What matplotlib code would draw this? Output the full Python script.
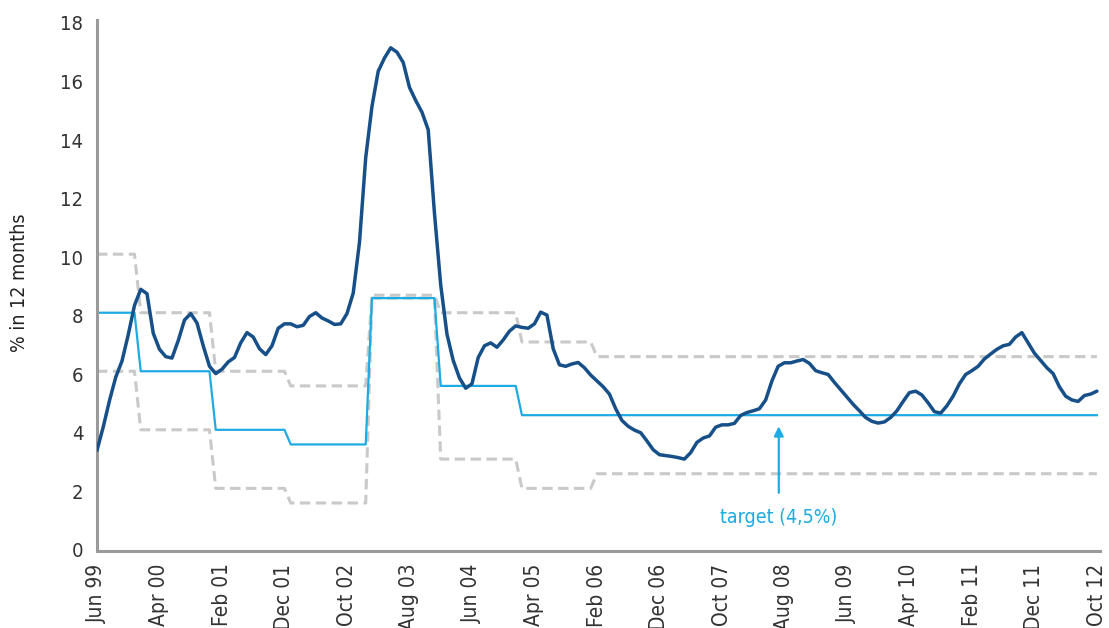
import matplotlib
matplotlib.use("Agg")
import matplotlib.pyplot as plt
import matplotlib.transforms as mtransforms

# ---- data (monthly, Jun 99 .. Oct 12) ----
months = list(range(161))
tick_labels = ["Jun 99", "Apr 00", "Feb 01", "Dec 01", "Oct 02", "Aug 03", "Jun 04",
               "Apr 05", "Feb 06", "Dec 06", "Oct 07", "Aug 08", "Jun 09", "Apr 10",
               "Feb 11", "Dec 11", "Oct 12"]
tick_positions = list(range(0, 161, 10))

cpi = [3.3, 4.1, 5.0, 5.8, 6.35, 7.25, 8.25, 8.8, 8.65, 7.3,
       6.75, 6.5, 6.45, 7.05, 7.75, 7.97, 7.65, 6.87, 6.17, 5.92,
       6.07, 6.32, 6.47, 6.97, 7.32, 7.17, 6.77, 6.57, 6.87, 7.47,
       7.62, 7.62, 7.52, 7.57, 7.87, 8.0, 7.82, 7.72, 7.6, 7.62,
       7.97, 8.67, 10.4, 13.3, 15.05, 16.25, 16.7, 17.05, 16.9, 16.55,
       15.7, 15.25, 14.85, 14.25, 11.4, 8.95, 7.27, 6.37, 5.77, 5.42,
       5.57, 6.47, 6.87, 6.97, 6.82, 7.07, 7.37, 7.55, 7.5, 7.47,
       7.62, 8.02, 7.92, 6.77, 6.22, 6.17, 6.25, 6.3, 6.12, 5.87,
       5.67, 5.47, 5.22, 4.72, 4.32, 4.12, 3.99, 3.9, 3.62, 3.32,
       3.15, 3.12, 3.09, 3.05, 3.0, 3.22, 3.57, 3.72, 3.79, 4.09,
       4.17, 4.17, 4.22, 4.49, 4.59, 4.65, 4.72, 5.02, 5.67, 6.17,
       6.29, 6.29, 6.35, 6.4, 6.27, 6.02, 5.95, 5.89, 5.62, 5.37,
       5.12, 4.87, 4.65, 4.42, 4.29, 4.23, 4.27, 4.42, 4.65, 4.97,
       5.27, 5.32, 5.19, 4.92, 4.62, 4.57, 4.82, 5.15, 5.57, 5.89,
       6.02, 6.17, 6.42, 6.59, 6.75, 6.87, 6.92, 7.17, 7.32, 6.97,
       6.62, 6.37, 6.12, 5.92, 5.47, 5.15, 5.02, 4.97, 5.17, 5.22,
       5.32]

# target and tolerance band: (last month index of regime, target, upper, lower)
regime_end = [6, 18, 30, 43, 54, 67, 79, 160]
target_val = [8.0, 6.0, 4.0, 3.5, 8.5, 5.5, 4.5, 4.5]
upper_val = [10.0, 8.0, 6.0, 5.5, 8.6, 8.0, 7.0, 6.5]
lower_val = [6.0, 4.0, 2.0, 1.5, 8.5, 3.0, 2.0, 2.5]


def expand(values):
    out = []
    start = 0
    for end, v in zip(regime_end, values):
        out.extend([v] * (end - start + 1))
        start = end + 1
    return out


target = expand(target_val)
upper = expand(upper_val)
lower = expand(lower_val)

DARK = "#174f88"
LIGHT = "#1eaae2"
GREY = "#c9c9c9"
AXIS = "#9a9a9a"

plt.rcParams['font.family'] = ['DejaVu Sans']
plt.rcParams['font.stretch'] = 'condensed'

fig = plt.figure(figsize=(11.09, 6.28), dpi=100)
ax = fig.add_axes([97 / 1109, 1 - 551 / 628, (1100 - 97) / 1109, (551 - 20) / 628])

ax.plot(months, upper, color=GREY, lw=2.2, linestyle=(0, (3.4, 1.8)), zorder=1)
ax.plot(months, lower, color=GREY, lw=2.2, linestyle=(0, (3.4, 1.8)), zorder=1)
ax.plot(months, target, color=LIGHT, lw=1.6, zorder=2)
ax.plot(months, cpi, color=DARK, lw=2.5, solid_joinstyle='round',
        solid_capstyle='round', zorder=3)

ax.set_xlim(0, 160.5)
ax.set_ylim(-0.14, 18.0)
ax.set_yticks(range(0, 19, 2))
ax.set_xticks(tick_positions)
ax.set_xticklabels(tick_labels, rotation=90)

for side in ("top", "right"):
    ax.spines[side].set_visible(False)
for side in ("left", "bottom"):
    ax.spines[side].set_color(AXIS)
    ax.spines[side].set_linewidth(2.2)

ax.tick_params(axis='both', length=0, colors="#333333")
ax.tick_params(axis='y', pad=10, labelsize=14.5)
ax.tick_params(axis='x', pad=9, labelsize=15)

offset = mtransforms.ScaledTranslation(0, -3 / 100, fig.dpi_scale_trans)
for lab in ax.get_yticklabels():
    lab.set_transform(lab.get_transform() + offset)

# annotation
ax.annotate("", xy=(109.1, 4.12), xytext=(109.1, 1.85),
            arrowprops=dict(arrowstyle='-|>', color=LIGHT, lw=1.6, mutation_scale=14,
                            shrinkA=0, shrinkB=0))
ax.text(109.1, 1.0, "target (4,5%)", color=LIGHT, fontsize=14,
        ha='center', va='center')

fig.text(20 / 1109, 1 - 283 / 628, "% in 12 months", rotation=90, fontsize=14,
         ha='center', va='center', color="#222222")

fig.savefig("out.png", dpi=100)
